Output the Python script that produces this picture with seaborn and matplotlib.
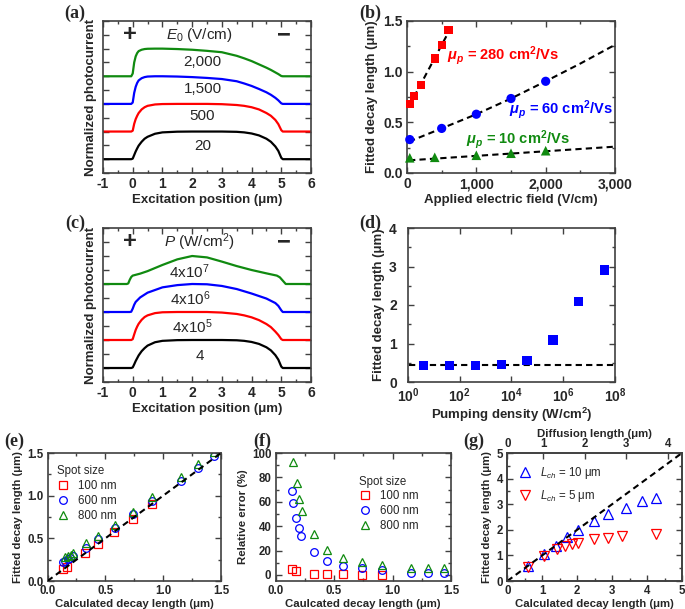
import numpy as np
import matplotlib
matplotlib.use("Agg")
import matplotlib.pyplot as plt
import seaborn as sns
from matplotlib.ticker import MultipleLocator, LogLocator, NullFormatter

# ---------------- data ----------------
# (a) normalized photocurrent profiles vs excitation position, E0 series
a_x = [-1.0, -0.05, 0.0, 0.05, 0.1, 0.15, 0.2, 0.3, 0.4, 0.5, 0.75, 1.0, 1.5, 2.0,
       2.5, 3.0, 3.5, 3.75, 4.0, 4.25, 4.5, 4.65, 4.8, 4.9, 5.0, 5.05, 6.0]
a_20 = [0, 0, 0.02, 0.15, 0.28, 0.39, 0.49, 0.63, 0.74, 0.81, 0.92, 0.97, 0.995, 1, 1,
        1, 0.99, 0.97, 0.93, 0.86, 0.74, 0.63, 0.46, 0.3, 0.05, 0, 0]
a_500 = [0, 0, 0.03, 0.28, 0.45, 0.57, 0.67, 0.8, 0.88, 0.93, 0.98, 0.995, 1, 1, 1,
         0.99, 0.96, 0.93, 0.88, 0.8, 0.67, 0.57, 0.42, 0.27, 0.05, 0, 0]
a_1500 = [0, 0, 0.05, 0.4, 0.62, 0.76, 0.85, 0.93, 0.97, 0.99, 1, 1, 0.99, 0.97, 0.94,
          0.9, 0.82, 0.74, 0.65, 0.54, 0.42, 0.33, 0.22, 0.13, 0.02, 0, 0]
a_2000 = [0, 0, 0.1, 0.5, 0.72, 0.84, 0.91, 0.96, 0.985, 0.995, 1, 1, 0.985, 0.96, 0.92,
          0.87, 0.74, 0.65, 0.55, 0.43, 0.31, 0.23, 0.14, 0.08, 0.01, 0, 0]
a_labels = ["20", "500", "1,500", "2,000"]

# (c) profiles vs pumping density
c_4 = [0, 0, 0.02, 0.13, 0.25, 0.35, 0.45, 0.6, 0.71, 0.8, 0.92, 0.97, 0.995, 1, 1,
       1, 0.99, 0.97, 0.93, 0.86, 0.74, 0.63, 0.46, 0.3, 0.05, 0, 0]
c_4e5 = [0, 0, 0.03, 0.2, 0.36, 0.48, 0.58, 0.72, 0.82, 0.88, 0.96, 0.99, 1, 1, 1,
         0.98, 0.93, 0.88, 0.81, 0.71, 0.57, 0.46, 0.3, 0.18, 0.03, 0, 0]
c_x4e6 = [-1, -0.1, -0.05, 0, 0.05, 0.1, 0.25, 0.5, 1, 1.5, 2, 2.5, 3, 3.5, 4, 4.5,
          4.8, 4.9, 5.0, 5.05, 6]
c_4e6 = [0, 0, 0.01, 0.12, 0.26, 0.36, 0.52, 0.69, 0.88, 0.96, 1.0, 0.99, 0.93, 0.82,
         0.66, 0.48, 0.32, 0.22, 0.06, 0, 0]
c_x4e7 = [-1, -0.2, -0.15, -0.1, -0.05, 0, 0.25, 0.5, 1, 1.5, 2, 2.5, 3, 3.5, 4, 4.5,
          4.85, 4.95, 5.05, 5.15, 6]
c_4e7 = [0, 0, 0.02, 0.15, 0.25, 0.3, 0.37, 0.46, 0.68, 0.88, 1.0, 0.95, 0.8, 0.64,
         0.5, 0.38, 0.3, 0.24, 0.12, 0, 0]
c_labels = ["4", r"4x10$^5$", r"4x10$^6$", r"4x10$^7$"]

# (b) fitted decay length vs applied field
b_red_x = [40, 100, 200, 400, 500, 600]
b_red_y = [0.68, 0.76, 0.87, 1.13, 1.26, 1.41]
b_blue_x = [40, 500, 1000, 1500, 2000]
b_blue_y = [0.33, 0.44, 0.58, 0.735, 0.905]
b_green_x = [40, 400, 1000, 1500, 2000]
b_green_y = [0.15, 0.155, 0.175, 0.195, 0.22]
b_fit_red_x = [30, 630]
b_fit_red_y = [0.66, 1.43]
b_fit_blue_x = [30, 500, 1000, 1500, 2000, 2500, 3000]
b_fit_blue_y = [0.31, 0.44, 0.58, 0.735, 0.905, 1.08, 1.265]
b_fit_green_x = [30, 3000]
b_fit_green_y = [0.125, 0.26]
b_xticks = [0, 1000, 2000, 3000]
b_xticklabels = ["0", "1,000", "2,000", "3,000"]

# (d) fitted decay length vs pumping density
d_x = [4, 40, 400, 4e3, 4e4, 4e5, 4e6, 4e7]
d_y = [0.435, 0.435, 0.435, 0.46, 0.565, 1.09, 2.09, 2.91]
d_fit_x = [1.1, 1e8]
d_fit_y = [0.435, 0.435]
d_xticks = [1, 1e2, 1e4, 1e6, 1e8]
d_xticklabels = [r"$\mathbf{10^0}$", r"$\mathbf{10^2}$", r"$\mathbf{10^4}$",
                 r"$\mathbf{10^6}$", r"$\mathbf{10^8}$"]

# (e) fitted vs calculated decay length, three spot sizes
e_red_x = [0.135, 0.17, 0.325, 0.44, 0.575, 0.735, 0.905]
e_red_y = [0.145, 0.168, 0.328, 0.438, 0.574, 0.731, 0.903]
e_blue_x = [0.135, 0.152, 0.175, 0.198, 0.221, 0.33, 0.44, 0.58, 0.74, 0.905, 1.155, 1.3, 1.44]
e_blue_y = [0.225, 0.24, 0.255, 0.27, 0.29, 0.39, 0.49, 0.62, 0.78, 0.94, 1.175, 1.32, 1.465]
e_green_x = [0.152, 0.178, 0.2, 0.222, 0.33, 0.44, 0.58, 0.74, 0.905, 1.155, 1.3, 1.44]
e_green_y = [0.28, 0.295, 0.31, 0.33, 0.44, 0.53, 0.66, 0.81, 0.98, 1.22, 1.37, 1.515]
e_diag = [0, 1.5]

# (f) relative error vs calculated decay length
f_red_x = [0.138, 0.175, 0.332, 0.437, 0.58, 0.737, 0.907]
f_red_y = [4.5, 3.3, 0.8, 0.6, 0.4, 0.3, 0.2]
f_blue_x = [0.138, 0.152, 0.175, 0.198, 0.221, 0.332, 0.437, 0.58, 0.737, 0.907, 1.158, 1.30, 1.44]
f_blue_y = [68.5, 59, 46.5, 38.3, 31.7, 18.6, 11.2, 7.1, 5.4, 4.1, 1.6, 1.6, 1.6]
f_green_x = [0.152, 0.181, 0.201, 0.224, 0.332, 0.437, 0.58, 0.742, 0.907, 1.158, 1.30, 1.44]
f_green_y = [93, 75, 62.5, 52.5, 33.5, 20.5, 14, 10.5, 8.2, 5.5, 5.5, 5.5]
spot_labels = ["100 nm", "600 nm", "800 nm"]

# (g) fitted vs calculated decay length for two channel lengths
g_up_x = [0.6, 1.06, 1.39, 1.72, 2.01, 2.48, 2.87, 3.39, 3.85, 4.26]
g_up_y = [0.59, 1.05, 1.37, 1.70, 1.98, 2.34, 2.62, 2.86, 3.11, 3.25]
g_dn_x = [0.6, 1.04, 1.41, 1.65, 1.86, 2.02, 2.49, 2.89, 3.28, 4.26]
g_dn_y = [0.55, 0.98, 1.25, 1.35, 1.46, 1.50, 1.63, 1.68, 1.76, 1.83]
g_diag = [0, 5]
g_top_pos = [0, 1.03, 2.22, 3.39, 4.59]
g_top_labels = ["0", "1", "2", "3", "4"]
g_labels = [r"$L_{ch}$ = 10 μm", r"$L_{ch}$ = 5 μm"]

# ---------------- style ----------------
sns.set_style("ticks")
plt.rcParams.update({
    "font.family": ["Liberation Sans", "DejaVu Sans"],
    "font.weight": "bold",
    "axes.labelweight": "bold",
    "axes.unicode_minus": False,
    "mathtext.fontset": "custom",
    "mathtext.rm": "Liberation Sans:weight=normal",
    "mathtext.it": "Liberation Sans:style=italic:weight=normal",
    "mathtext.bf": "Liberation Sans:weight=bold",
    "mathtext.bfit": "Liberation Sans:style=italic:weight=bold",
    "mathtext.sf": "Liberation Sans:weight=normal",
})

RED, BLUE, GREEN = "#ff0000", "#0000ff", "#108a10"
FRAME = "#404040"
W, H = 685, 609
TOP_TICK, TOP_LAB = 10, 9.5
BOT_TICK, BOT_LAB = 8.3, 8.2


def add_ax(x0, y0, x1, y1):
    return fig.add_axes([x0 / W, 1 - y1 / H, (x1 - x0) / W, (y1 - y0) / H])


def style(ax, fs, top=True):
    ax.tick_params(which="both", direction="in", top=top, right=True,
                   labelsize=fs, width=1, color=FRAME, pad=3)
    ax.tick_params(which="major", length=4)
    ax.tick_params(which="minor", length=2)
    for s in ax.spines.values():
        s.set_color(FRAME)
        s.set_linewidth(1.2)


def dashed(ax, x, y):
    sns.lineplot(x=x, y=y, ax=ax, color="black", lw=1.5, sort=False,
                 estimator=None, zorder=4).lines[-1].set_dashes((3, 2))


def panel_letter(x, y, s):
    fig.text(x / W, 1 - y / H, s, family="Liberation Serif", weight="bold",
             size=13, ha="center", va="center")


fig = plt.figure(figsize=(W / 100, H / 100), dpi=100)

# ---------------- (a) ----------------
ax = add_ax(103, 21, 311, 173)
for k, (ys, col) in enumerate(zip([a_20, a_500, a_1500, a_2000], ["black", RED, BLUE, GREEN])):
    sns.lineplot(x=a_x, y=np.array(ys) + k, ax=ax, color=col, lw=1.6, sort=False, estimator=None)
for k, (lab, yy) in enumerate(zip(a_labels, [0.48, 1.55, 2.55, 3.52])):
    ax.text(2.35, yy, lab, ha="center", va="center", fontsize=11, fontweight="normal")
ax.text(-0.1, 4.5, "+", ha="center", va="center", fontsize=17)
ax.text(2.25, 4.5, r"$E_{\mathit{0}}$ (V/cm)", ha="center", va="center", fontsize=11, fontweight="normal")
ax.text(5.1, 4.5, "−", ha="center", va="center", fontsize=17)
ax.set_xlim(-1, 6)
ax.set_ylim(-0.5, 5)
ax.xaxis.set_major_locator(MultipleLocator(1))
ax.xaxis.set_minor_locator(MultipleLocator(0.5))
ax.yaxis.set_major_locator(MultipleLocator(0.5))
ax.set_xlabel("Excitation position (μm)", fontsize=TOP_LAB, labelpad=2)
ax.set_ylabel("Normalized photocurrent", fontsize=TOP_LAB, labelpad=4)
style(ax, TOP_TICK)
ax.tick_params(axis="y", labelleft=False)
panel_letter(75, 13, "(a)")

# ---------------- (b) ----------------
ax = add_ax(407, 21, 615, 173)
dashed(ax, b_fit_red_x, b_fit_red_y)
dashed(ax, b_fit_blue_x, b_fit_blue_y)
dashed(ax, b_fit_green_x, b_fit_green_y)
sns.scatterplot(x=b_red_x, y=b_red_y, ax=ax, marker="s", s=36, color=RED, edgecolor="none", zorder=5, clip_on=False)
sns.scatterplot(x=b_blue_x, y=b_blue_y, ax=ax, marker="o", s=44, color=BLUE, edgecolor="none", zorder=5, clip_on=False)
sns.scatterplot(x=b_green_x, y=b_green_y, ax=ax, marker="^", s=48, color=GREEN, edgecolor="none", zorder=5, clip_on=False)
ax.text(580, 1.16, r"$\mathbfit{\mu_p}$ = 280 cm$^\mathbf{2}$/Vs", color=RED, fontsize=10.5, va="center")
ax.text(1466, 0.63, r"$\mathbfit{\mu_p}$ = 60 cm$^\mathbf{2}$/Vs", color=BLUE, fontsize=10.5, va="center")
ax.text(856, 0.33, r"$\mathbfit{\mu_p}$ = 10 cm$^\mathbf{2}$/Vs", color=GREEN, fontsize=10.5, va="center")
ax.set_xlim(0, 3000)
ax.set_ylim(0, 1.5)
ax.set_xticks(b_xticks)
ax.set_xticklabels(b_xticklabels)
ax.xaxis.set_minor_locator(MultipleLocator(500))
ax.yaxis.set_major_locator(MultipleLocator(0.5))
ax.yaxis.set_minor_locator(MultipleLocator(0.25))
ax.yaxis.set_major_formatter(matplotlib.ticker.FormatStrFormatter("%.1f"))
ax.set_xlabel("Applied electric field (V/cm)", fontsize=TOP_LAB, labelpad=2)
ax.set_ylabel("Fitted decay length (μm)", fontsize=TOP_LAB, labelpad=4)
style(ax, TOP_TICK)
panel_letter(370, 13, "(b)")

# ---------------- (c) ----------------
ax = add_ax(103, 228, 311, 382)
c_series = [(a_x, c_4, "black"), (a_x, c_4e5, RED), (c_x4e6, c_4e6, BLUE), (c_x4e7, c_4e7, GREEN)]
for k, (xs, ys, col) in enumerate(c_series):
    sns.lineplot(x=xs, y=np.array(ys) + k, ax=ax, color=col, lw=1.6, sort=False, estimator=None)
for lab, xx, yy in zip(c_labels, [2.25, 2.0, 1.95, 1.9], [0.44, 1.46, 2.48, 3.45]):
    ax.text(xx, yy, lab, ha="center", va="center", fontsize=11, fontweight="normal")
ax.text(-0.1, 4.5, "+", ha="center", va="center", fontsize=17)
ax.text(2.25, 4.5, r"$P$ (W/cm$^2$)", ha="center", va="center", fontsize=11, fontweight="normal")
ax.text(5.1, 4.5, "−", ha="center", va="center", fontsize=17)
ax.set_xlim(-1, 6)
ax.set_ylim(-0.5, 5)
ax.xaxis.set_major_locator(MultipleLocator(1))
ax.xaxis.set_minor_locator(MultipleLocator(0.5))
ax.yaxis.set_major_locator(MultipleLocator(0.5))
ax.set_xlabel("Excitation position (μm)", fontsize=TOP_LAB, labelpad=2)
ax.set_ylabel("Normalized photocurrent", fontsize=TOP_LAB, labelpad=4)
style(ax, TOP_TICK)
ax.tick_params(axis="y", labelleft=False)
panel_letter(75, 223, "(c)")

# ---------------- (d) ----------------
ax = add_ax(408, 228, 615, 382)
dashed(ax, d_fit_x, d_fit_y)
sns.scatterplot(x=d_x, y=d_y, ax=ax, marker="s", s=44, color=BLUE, edgecolor="none", zorder=5)
ax.set_xscale("log")
ax.set_xlim(1, 1e8)
ax.set_ylim(0, 4)
ax.set_xticks(d_xticks)
ax.set_xticklabels(d_xticklabels)
ax.xaxis.set_minor_locator(LogLocator(base=10, subs=np.arange(2, 10)))
ax.xaxis.set_minor_formatter(NullFormatter())
ax.yaxis.set_major_locator(MultipleLocator(1))
ax.yaxis.set_minor_locator(MultipleLocator(0.5))
ax.set_xlabel(r"Pumping density (W/cm$^\mathbf{2}$)", fontsize=TOP_LAB, labelpad=1)
ax.set_ylabel("Fitted decay length (μm)", fontsize=TOP_LAB, labelpad=3)
style(ax, TOP_TICK)
ax.tick_params(axis="y", pad=8)
panel_letter(370, 223, "(d)")

# ---------------- (e) ----------------
ax = add_ax(47.5, 453, 221, 581)
for xs, ys, col, mk, lab in zip([e_red_x, e_blue_x, e_green_x], [e_red_y, e_blue_y, e_green_y],
                                [RED, BLUE, GREEN], ["s", "o", "^"], spot_labels):
    sns.lineplot(x=xs, y=ys, ax=ax, color=col, marker=mk, linestyle="", mfc="none", mec=col,
                 mew=0.9, ms=5.5, sort=False, estimator=None, label=lab)
dashed(ax, e_diag, e_diag)
ax.set_xlim(0, 1.5)
ax.set_ylim(0, 1.5)
for a in (ax.xaxis, ax.yaxis):
    a.set_major_locator(MultipleLocator(0.5))
    a.set_minor_locator(MultipleLocator(0.25))
    a.set_major_formatter(matplotlib.ticker.FormatStrFormatter("%.1f"))
ax.legend(title="Spot size", loc="upper left", bbox_to_anchor=(0.03, 0.94), frameon=False,
          prop={"weight": "normal", "size": 8.3}, title_fontproperties={"weight": "normal", "size": 8.3},
          alignment="left", handlelength=1.0, handletextpad=0.8, labelspacing=0.25, borderaxespad=0)
ax.set_xlabel("Calculated decay length (μm)", fontsize=BOT_LAB, labelpad=1)
ax.set_ylabel("Fitted decay length (μm)", fontsize=BOT_LAB, labelpad=3)
style(ax, BOT_TICK)
panel_letter(14, 441, "(e)")

# ---------------- (f) ----------------
ax = add_ax(275.5, 453, 451, 581)
for xs, ys, col, mk, lab in zip([f_red_x, f_blue_x, f_green_x], [f_red_y, f_blue_y, f_green_y],
                                [RED, BLUE, GREEN], ["s", "o", "^"], spot_labels):
    sns.lineplot(x=xs, y=ys, ax=ax, color=col, marker=mk, linestyle="", mfc="none", mec=col,
                 mew=0.9, ms=5.5, sort=False, estimator=None, label=lab)
ax.set_xlim(0, 1.5)
ax.set_ylim(-5, 100)
ax.xaxis.set_major_locator(MultipleLocator(0.5))
ax.xaxis.set_minor_locator(MultipleLocator(0.25))
ax.xaxis.set_major_formatter(matplotlib.ticker.FormatStrFormatter("%.1f"))
ax.yaxis.set_major_locator(MultipleLocator(20))
ax.yaxis.set_minor_locator(MultipleLocator(10))
ax.legend(title="Spot size", loc="upper left", bbox_to_anchor=(0.45, 0.86), frameon=False,
          prop={"weight": "normal", "size": 8.3}, title_fontproperties={"weight": "normal", "size": 8.3},
          alignment="left", handlelength=1.0, handletextpad=0.8, labelspacing=0.25, borderaxespad=0)
ax.set_xlabel("Caulcated decay length (μm)", fontsize=BOT_LAB, labelpad=1)
ax.set_ylabel("Relative error (%)", fontsize=BOT_LAB, labelpad=3)
style(ax, BOT_TICK)
panel_letter(262, 441, "(f)")

# ---------------- (g) ----------------
ax = add_ax(507.3, 453, 682, 581)
dashed(ax, g_diag, g_diag)
sns.lineplot(x=g_up_x, y=g_up_y, ax=ax, color=BLUE, marker="^", linestyle="", mfc="none", mec=BLUE,
             mew=0.9, ms=7, sort=False, estimator=None, label=g_labels[0])
sns.lineplot(x=g_dn_x, y=g_dn_y, ax=ax, color=RED, marker="v", linestyle="", mfc="none", mec=RED,
             mew=0.9, ms=7, sort=False, estimator=None, label=g_labels[1])
ax.set_xlim(0, 5)
ax.set_ylim(0, 5)
for a in (ax.xaxis, ax.yaxis):
    a.set_major_locator(MultipleLocator(1))
    a.set_minor_locator(MultipleLocator(0.5))
h, l = ax.get_legend_handles_labels()
ax.legend(h[-2:], l[-2:], loc="upper left", bbox_to_anchor=(0.04, 0.94), frameon=False,
          prop={"weight": "normal", "size": 8.3}, handlelength=1.0, handletextpad=0.8,
          labelspacing=0.6, borderaxespad=0)
ax.set_xlabel("Calculated decay length (μm)", fontsize=BOT_LAB, labelpad=1)
ax.set_ylabel("Fitted decay length (μm)", fontsize=BOT_LAB, labelpad=3)
style(ax, BOT_TICK, top=False)
ax2 = ax.twiny()
ax2.set_xlim(0, 5)
ax2.set_xticks(g_top_pos)
ax2.set_xticklabels(g_top_labels)
ax2.set_xlabel("Diffusion length (μm)", fontsize=BOT_LAB, labelpad=1)
ax2.tick_params(axis="x", which="both", direction="in", labelsize=BOT_TICK, width=1, length=4, color=FRAME, pad=2)
for s in ax2.spines.values():
    s.set_color(FRAME)
    s.set_linewidth(1.2)
panel_letter(474, 441, "(g)")

fig.savefig("out.png", dpi=100)
